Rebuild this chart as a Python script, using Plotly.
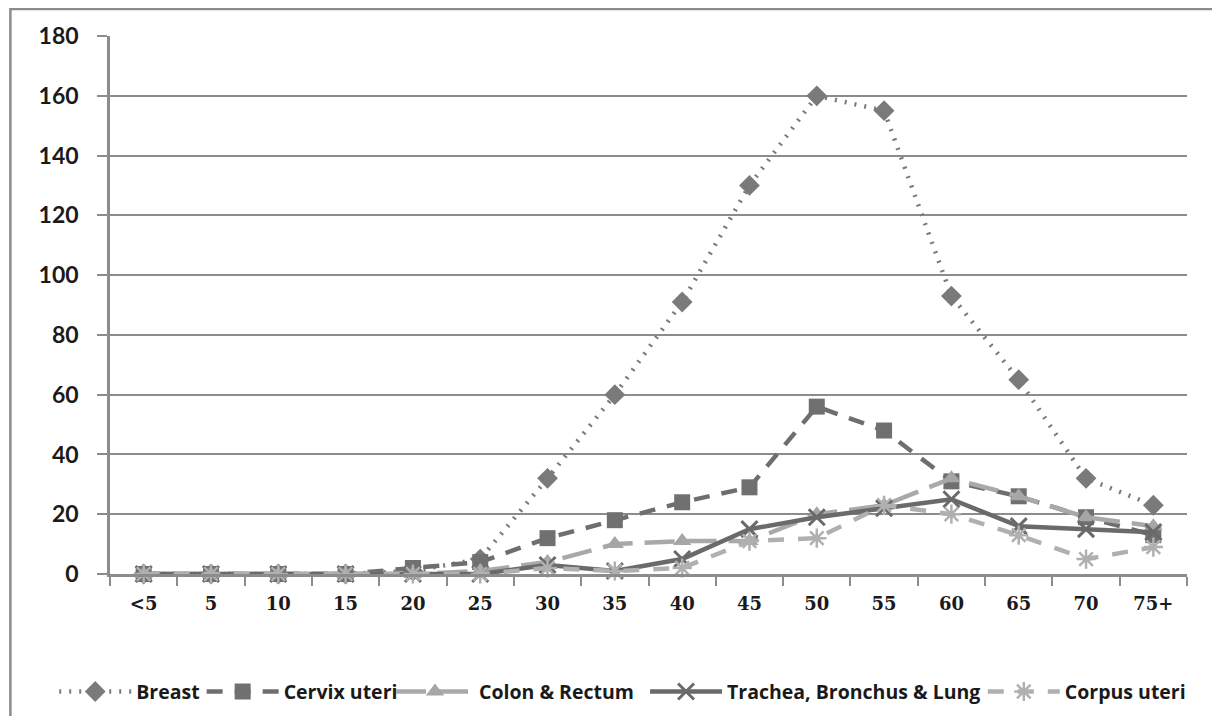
import plotly.graph_objects as go

age_groups = ["<5", "5", "10", "15", "20", "25", "30", "35", "40", "45", "50", "55", "60", "65", "70", "75+"]
breast = [0, 0, 0, 0, 1, 5, 32, 60, 91, 130, 160, 155, 93, 65, 32, 23]
cervix_uteri = [0, 0, 0, 0, 2, 4, 12, 18, 24, 29, 56, 48, 31, 26, 19, 13]
colon_rectum = [0, 0, 0, 0, 0, 1, 4, 10, 11, 11, 20, 23, 32, 26, 19, 16]
trachea_lung = [0, 0, 0, 0, 0, 0, 3, 1, 5, 15, 19, 22, 25, 16, 15, 14]
corpus_uteri = [0, 0, 0, 0, 0, 0, 2, 1, 2, 11, 12, 23, 20, 13, 5, 9]
y_ticks = [0, 20, 40, 60, 80, 100, 120, 140, 160, 180]

fig = go.Figure()

fig.add_trace(go.Scatter(
    x=age_groups, y=breast, name="Breast", mode="lines+markers", legend="legend",
    line=dict(color="#7a7a7a", width=4.5, dash="2px,8px"),
    marker=dict(symbol="diamond", size=16, color="#7a7a7a"),
    cliponaxis=False))
fig.add_trace(go.Scatter(
    x=age_groups, y=cervix_uteri, name="Cervix uteri", mode="lines+markers", legend="legend2",
    line=dict(color="#6e6e6e", width=4.5, dash="16px,12px"),
    marker=dict(symbol="square", size=16, color="#707070"),
    cliponaxis=False))
fig.add_trace(go.Scatter(
    x=age_groups, y=colon_rectum, name="Colon & Rectum", mode="lines+markers", legend="legend3",
    line=dict(color="#a9a9a9", width=4.5, dash="30px,12px"),
    marker=dict(symbol="triangle-up", size=16, color="#a6a6a6"),
    cliponaxis=False))
fig.add_trace(go.Scatter(
    x=age_groups, y=trachea_lung, name="Trachea, Bronchus & Lung", mode="lines+markers", legend="legend4",
    line=dict(color="#6a6a6a", width=4.5),
    marker=dict(symbol="x-thin-open", size=16, line=dict(color="#5f5f5f", width=3)),
    cliponaxis=False))
fig.add_trace(go.Scatter(
    x=age_groups, y=corpus_uteri, name="Corpus uteri", mode="lines+markers", legend="legend5",
    line=dict(color="#b0b0b0", width=4.5, dash="16px,14px"),
    marker=dict(symbol="asterisk-open", size=16, line=dict(color="#a8a8a8", width=2.5)),
    cliponaxis=False))

legend_font = dict(family="Open Sans", size=19.5, color="#1a1a1a", weight="bold")


def legend_at(xpos, iw=72):
    return dict(orientation="h", x=xpos, xanchor="left", y=-0.219, yanchor="middle",
                font=legend_font, itemwidth=iw, bgcolor="rgba(0,0,0,0)")


fig.update_layout(
    width=1220, height=716,
    margin=dict(l=102, r=41, t=28, b=150),
    paper_bgcolor="white", plot_bgcolor="white",
    showlegend=True,
    legend=legend_at(-0.0518),
    legend2=legend_at(0.0851),
    legend3=legend_at(0.2609, 78),
    legend4=legend_at(0.4968),
    legend5=legend_at(0.8104),
    xaxis=dict(type="category", categoryorder="array", categoryarray=age_groups,
               showline=True, linecolor="#8c8c8c", linewidth=2.5,
               ticks="outside", tickson="boundaries", ticklen=9, tickcolor="#8c8c8c", tickwidth=2,
               tickfont=dict(family="DejaVu Serif", size=18, color="#1a1a1a", weight="bold"),
               ticklabelstandoff=12, showgrid=False, zeroline=False,
               range=[-0.5, 15.5]),
    yaxis=dict(range=[0, 180], tickvals=y_ticks, showline=True, linecolor="#8c8c8c", linewidth=2.5,
               ticks="outside", ticklen=10, tickcolor="#8c8c8c", tickwidth=2,
               tickfont=dict(family="Lato", size=23, color="#1a1a1a", weight="bold"),
               ticklabelstandoff=14,
               showgrid=True, gridcolor="#8c8c8c", gridwidth=2, zeroline=False),
    shapes=[dict(type="rect", xref="paper", yref="paper",
                 x0=-0.0925, x1=1.027, y0=-0.30, y1=1.050,
                 line=dict(color="#8c8c8c", width=2.5), fillcolor="rgba(0,0,0,0)", layer="below")],
)

fig.write_html("out.html")
